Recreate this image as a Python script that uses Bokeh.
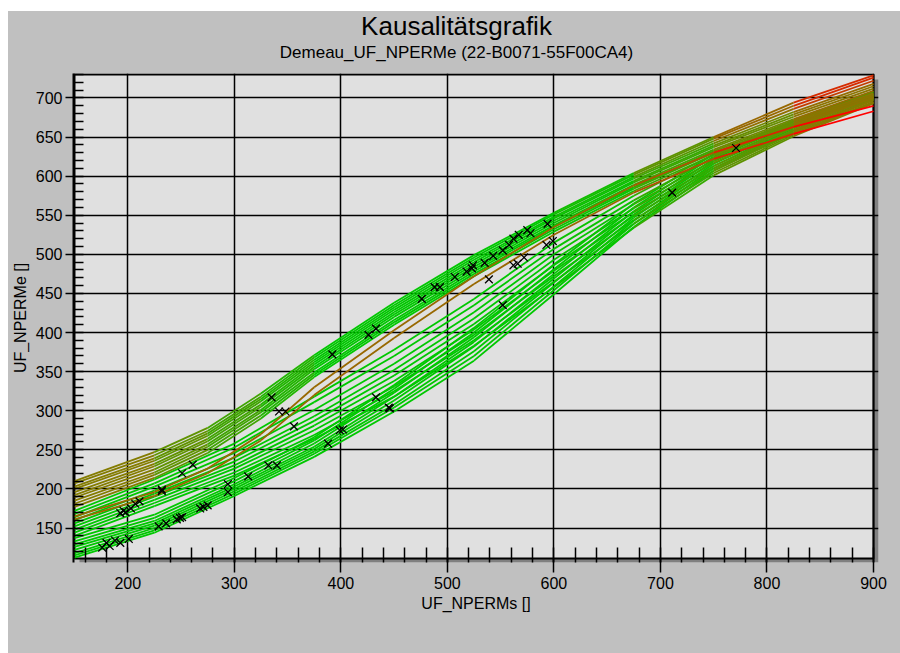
from bokeh.plotting import figure
from bokeh.layouts import column
from bokeh.models import Range1d, FixedTicker, ColumnDataSource
from bokeh.core.properties import value
from bokeh.embed import file_html
from bokeh.resources import INLINE

FONT = "Liberation Sans"
PANEL = "#c0c0c0"

# ---- texts ----
title_text = "Kausalitätsgrafik"
subtitle_text = "Demeau_UF_NPERMe (22-B0071-55F00CA4)"
x_label = "UF_NPERMs []"
y_label = "UF_NPERMe []"

# ---- axes ----
x_ticks = [200, 300, 400, 500, 600, 700, 800, 900]
y_ticks = [150, 200, 250, 300, 350, 400, 450, 500, 550, 600, 650, 700]
x_start, x_end = 150, 900
y_start, y_end = 111, 730

# ---- model curves: UF_NPERMe at the listed UF_NPERMs values ----
band_x = [150, 225, 300, 375, 450, 525, 600, 675, 750, 825, 900]
upper_x = [150, 225, 275, 325, 375, 450, 525, 600, 675, 750, 825, 900]

upper_band = [
    [210, 247, 278, 322, 371, 438, 499, 553, 604, 650, 694, 729],
    [207, 243, 274, 318, 368, 435, 496, 551, 602, 648, 690, 726],
    [203, 239, 271, 315, 365, 432, 493, 548, 599, 645, 686, 722],
    [200, 236, 268, 312, 362, 429, 490, 546, 597, 642, 682, 718],
    [196, 232, 264, 308, 359, 426, 487, 543, 594, 639, 679, 715],
    [192, 229, 261, 305, 356, 423, 484, 540, 592, 637, 676, 712],
    [189, 225, 257, 301, 353, 420, 481, 537, 589, 634, 673, 709],
    [185, 221, 254, 298, 349, 416, 478, 535, 586, 632, 671, 706],
    [181, 218, 250, 294, 346, 413, 475, 532, 584, 630, 668, 703],
    [177, 214, 246, 290, 343, 410, 472, 529, 581, 627, 666, 700],
]

side_curves = [
    [165, 196, 226, 270, 330, 403, 472, 535, 588, 630, 663, 690],
    [161, 191, 220, 262, 320, 393, 462, 525, 579, 622, 654, 683],
]

middle_band = [
    [172, 212, 258, 318, 378, 443, 515, 575, 628, 670, 705],
    [168, 207, 253, 311, 370, 435, 507, 569, 624, 667, 703],
    [164, 203, 246, 301, 360, 426, 500, 564, 620, 664, 701],
    [160, 198, 240, 293, 352, 418, 493, 559, 617, 662, 700],
    [156, 194, 235, 287, 345, 411, 486, 554, 613, 659, 698],
    [152, 190, 230, 281, 338, 404, 479, 549, 610, 657, 697],
    [148, 186, 226, 275, 331, 397, 472, 544, 607, 655, 695],
    [144, 182, 221, 269, 325, 390, 465, 539, 604, 653, 694],
    [140, 178, 217, 264, 318, 383, 458, 534, 601, 651, 693],
]

lower_band = [
    [137, 167, 214, 266, 333, 406, 487, 565, 628, 671, 708],
    [133, 163, 210, 262, 328, 400, 481, 560, 625, 669, 707],
    [129, 159, 206, 258, 323, 394, 475, 555, 622, 667, 705],
    [126, 156, 203, 254, 318, 388, 469, 551, 619, 665, 704],
    [122, 153, 200, 251, 313, 382, 464, 547, 616, 663, 702],
    [118, 150, 197, 248, 308, 376, 459, 543, 613, 661, 701],
    [115, 147, 194, 245, 304, 370, 454, 539, 610, 659, 699],
    [112, 144, 191, 241, 299, 364, 449, 535, 607, 657, 698],
]

# ---- measured points ----
obs_x = [176, 180, 183, 188, 193, 201,
         193, 196, 198, 203, 207, 211,
         232, 232, 251, 261, 229, 236, 246, 249, 251,
         268, 271, 275, 294, 294, 313, 332, 340,
         335, 342, 348, 356, 388, 399, 402, 433, 445, 446,
         392, 426, 433, 476, 488, 493, 507, 518, 523, 524, 535, 543, 539,
         552, 558, 562, 567, 575, 578, 594, 593, 599, 562, 566, 572, 552,
         711, 771]
obs_y = [125, 131, 127, 134, 131, 136,
         169, 172, 170, 175, 181, 184,
         197, 199, 220, 231, 152, 156, 161, 163, 164,
         175, 177, 179, 196, 206, 216, 230, 230,
         317, 299, 299, 280, 258, 275, 276, 317, 304, 303,
         372, 397, 405, 443, 458, 458, 471, 478, 482, 486, 489, 498, 468,
         505, 512, 520, 525, 531, 527, 539, 512, 517, 486, 488, 496, 435,
         579, 636]

# ---- colouring of the curves: green inside the measured range, olive -> red outside ----
STOPS = [(0.0, (0, 200, 0)), (0.45, (128, 128, 0)), (0.75, (176, 80, 0)), (1.0, (255, 0, 0))]


def ramp(t):
    t = max(0.0, min(1.0, t))
    for (t0, c0), (t1, c1) in zip(STOPS[:-1], STOPS[1:]):
        if t <= t1:
            f = (t - t0) / (t1 - t0)
            return "#%02x%02x%02x" % tuple(int(round(a + (b - a) * f)) for a, b in zip(c0, c1))
    return "#ff0000"


families = [
    dict(x=band_x, curves=lower_band, lo=175, lo_scale=400, hi=780, hi_scales=[500] * 8, base=0.0),
    dict(x=band_x, curves=middle_band, lo=175, lo_scale=400, hi=620, hi_scales=[500] * 9, base=0.0),
    dict(x=upper_x, curves=upper_band, lo=400, lo_scale=450, hi=620,
         hi_scales=[280, 280, 300, 420, 460, 460, 420, 460, 460, 460], base=0.0),
    dict(x=upper_x, curves=side_curves, lo=150, lo_scale=400, hi=650, hi_scales=[480, 480], base=0.6),
]

seg_xs, seg_ys, seg_col = [], [], []
for fam in families:
    fx = fam["x"]
    for k, ys in enumerate(fam["curves"]):
        for i in range(len(fx) - 1):
            xm = 0.5 * (fx[i] + fx[i + 1])
            if xm < fam["lo"]:
                t = fam["base"] + (fam["lo"] - xm) / fam["lo_scale"]
            elif xm > fam["hi"]:
                t = fam["base"] + (xm - fam["hi"]) / fam["hi_scales"][k]
            else:
                t = fam["base"]
            seg_xs.append([fx[i], fx[i + 1]])
            seg_ys.append([ys[i], ys[i + 1]])
            seg_col.append(ramp(t))

# ---- geometry: plot box plus a drop shadow on the right and bottom ----
box_w, box_h = 799, 484          # px of the light plot box
shadow_r, shadow_b, pad = 5, 4, 1
px_x = box_w / (x_end - x_start)
px_y = box_h / (y_end - y_start)
frame_w = box_w + shadow_r + pad
frame_h = box_h + shadow_b + pad
left_w, right_w, bottom_h, head_h = 65, 22, 91, 62
total_w = left_w + frame_w + right_w

# ---- heading strip with title and subtitle ----
head = figure(frame_width=total_w, frame_height=head_h, min_border=0,
              x_range=Range1d(0, total_w), y_range=Range1d(0, head_h),
              x_axis_type=None, y_axis_type=None,
              output_backend="svg", toolbar_location=None)
head.frame_align = False
head.background_fill_color = PANEL
head.border_fill_color = PANEL
head.outline_line_color = None
head.grid.visible = False
head.styles = {"background-color": PANEL}
title_cx = 448
head.text(x=[title_cx], y=[48], text=[title_text], text_align="center",
          text_baseline="alphabetic", text_font=value(FONT), text_font_size="26px",
          text_color="black")
head.text(x=[title_cx], y=[21], text=[subtitle_text], text_align="center",
          text_baseline="alphabetic", text_font=value(FONT), text_font_size="17px",
          text_color="black")

# ---- main chart ----
p = figure(
    frame_width=frame_w, frame_height=frame_h,
    min_border_left=left_w, min_border_right=right_w, min_border_top=0,
    min_border_bottom=bottom_h,
    x_range=Range1d(x_start - pad / px_x, x_end + shadow_r / px_x),
    y_range=Range1d(y_start - shadow_b / px_y, y_end + pad / px_y),
    output_backend="svg", toolbar_location=None,
)
p.frame_align = False
p.background_fill_color = PANEL
p.border_fill_color = PANEL
p.outline_line_color = None
p.styles = {"background-color": PANEL}

# shadow and plot box
sh = p.quad(left=[x_start + shadow_r / px_x], right=[x_end + shadow_r / px_x],
            bottom=[y_start - shadow_b / px_y], top=[y_end - shadow_r / px_y],
            fill_color="#808080", line_color=None)
sh.level = "image"
bx = p.quad(left=[x_start], right=[x_end], bottom=[y_start], top=[y_end],
            fill_color="#e0e0e0", line_color="black", line_width=2)
bx.level = "image"

# grid
p.xgrid.ticker = FixedTicker(ticks=x_ticks)
p.ygrid.ticker = FixedTicker(ticks=y_ticks)
for g in (p.xgrid, p.ygrid):
    g.grid_line_color = "black"
    g.grid_line_width = 1.5

# curves and points
p.multi_line(xs="xs", ys="ys", line_color="col", line_width=1.8,
             source=ColumnDataSource(dict(xs=seg_xs, ys=seg_ys, col=seg_col)))
p.scatter(obs_x, obs_y, marker="x", size=11, line_color="black", line_width=1.3)

# axes
xa = p.xaxis[0]
xa.ticker = FixedTicker(ticks=x_ticks, minor_ticks=list(range(160, x_end + 1, 20)))
xa.axis_line_color = None
xa.major_tick_in = shadow_b
xa.major_tick_out = 10
xa.minor_tick_in = 15
xa.minor_tick_out = 0
xa.major_label_standoff = 4
xa.axis_label = x_label
xa.axis_label_standoff = 3

ya = p.yaxis[0]
ya.ticker = FixedTicker(ticks=y_ticks, minor_ticks=list(range(120, y_end + 1, 10)))
ya.axis_line_color = "black"
ya.axis_line_width = 2
ya.major_tick_in = 0
ya.major_tick_out = 8
ya.minor_tick_in = 10
ya.minor_tick_out = 0
ya.major_label_standoff = 3
ya.axis_label = y_label
ya.axis_label_standoff = 4

for ax in (xa, ya):
    ax.major_tick_line_color = "black"
    ax.major_tick_line_width = 1.5
    ax.minor_tick_line_color = "black"
    ax.minor_tick_line_width = 1.5
    ax.major_label_text_font = FONT
    ax.major_label_text_font_size = "16px"
    ax.major_label_text_color = "black"
    ax.axis_label_text_font = FONT
    ax.axis_label_text_font_size = "16px"
    ax.axis_label_text_font_style = "normal"
    ax.axis_label_text_color = "black"

page = column(head, p, spacing=0)
page.margin = (11, 0, 0, 8)
page.styles = {"background-color": PANEL}

open("out.html", "w").write(file_html(page, INLINE))
